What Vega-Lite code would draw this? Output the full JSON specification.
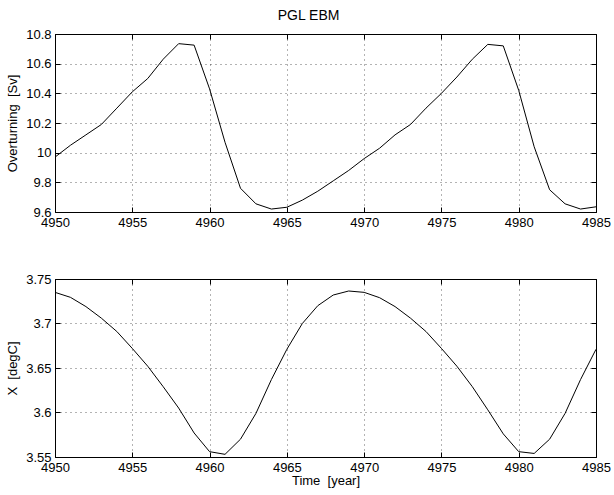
{
  "$schema": "https://vega.github.io/schema/vega-lite/v6.json",
  "autosize": {"type": "pad"},
  "padding": {"left": 6, "top": 8, "right": 5, "bottom": 5},
  "background": "white",
  "title": {"text": "PGL EBM", "anchor": "middle", "fontSize": 14, "fontWeight": "normal", "font": "Liberation Sans", "color": "black", "offset": 5},
  "datasets": {
    "overturning": [
      {"year": 4950, "value": 9.97}, {"year": 4951, "value": 10.05}, {"year": 4952, "value": 10.12},
      {"year": 4953, "value": 10.19}, {"year": 4954, "value": 10.30}, {"year": 4955, "value": 10.41},
      {"year": 4956, "value": 10.50}, {"year": 4957, "value": 10.63}, {"year": 4958, "value": 10.735},
      {"year": 4959, "value": 10.725}, {"year": 4960, "value": 10.43}, {"year": 4961, "value": 10.07},
      {"year": 4962, "value": 9.76}, {"year": 4963, "value": 9.655}, {"year": 4964, "value": 9.62},
      {"year": 4965, "value": 9.632}, {"year": 4966, "value": 9.68}, {"year": 4967, "value": 9.74},
      {"year": 4968, "value": 9.81}, {"year": 4969, "value": 9.88}, {"year": 4970, "value": 9.96},
      {"year": 4971, "value": 10.03}, {"year": 4972, "value": 10.12}, {"year": 4973, "value": 10.19},
      {"year": 4974, "value": 10.30}, {"year": 4975, "value": 10.40}, {"year": 4976, "value": 10.51},
      {"year": 4977, "value": 10.63}, {"year": 4978, "value": 10.73}, {"year": 4979, "value": 10.72},
      {"year": 4980, "value": 10.42}, {"year": 4981, "value": 10.04}, {"year": 4982, "value": 9.75},
      {"year": 4983, "value": 9.655}, {"year": 4984, "value": 9.62}, {"year": 4985, "value": 9.635}
    ],
    "temperature": [
      {"year": 4950, "value": 3.735}, {"year": 4951, "value": 3.7294}, {"year": 4952, "value": 3.719},
      {"year": 4953, "value": 3.706}, {"year": 4954, "value": 3.691}, {"year": 4955, "value": 3.672},
      {"year": 4956, "value": 3.652}, {"year": 4957, "value": 3.629}, {"year": 4958, "value": 3.605},
      {"year": 4959, "value": 3.577}, {"year": 4960, "value": 3.556}, {"year": 4961, "value": 3.553},
      {"year": 4962, "value": 3.570}, {"year": 4963, "value": 3.599}, {"year": 4964, "value": 3.637},
      {"year": 4965, "value": 3.671}, {"year": 4966, "value": 3.700}, {"year": 4967, "value": 3.720},
      {"year": 4968, "value": 3.732}, {"year": 4969, "value": 3.7365}, {"year": 4970, "value": 3.735},
      {"year": 4971, "value": 3.729}, {"year": 4972, "value": 3.719}, {"year": 4973, "value": 3.706},
      {"year": 4974, "value": 3.691}, {"year": 4975, "value": 3.672}, {"year": 4976, "value": 3.652},
      {"year": 4977, "value": 3.629}, {"year": 4978, "value": 3.603}, {"year": 4979, "value": 3.576},
      {"year": 4980, "value": 3.556}, {"year": 4981, "value": 3.554}, {"year": 4982, "value": 3.570},
      {"year": 4983, "value": 3.599}, {"year": 4984, "value": 3.637}, {"year": 4985, "value": 3.671}
    ]
  },
  "bounds": "flush",
  "spacing": 67,
  "vconcat": [
    {
      "width": 541,
      "height": 178,
      "data": {"name": "overturning"},
      "resolve": {"axis": {"x": "independent", "y": "independent"}},
      "layer": [
        {
          "mark": {"type": "line", "color": "black", "strokeWidth": 1},
          "encoding": {
            "x": {"field": "year", "type": "quantitative",
              "scale": {"domain": [4950, 4985], "nice": false, "zero": false},
              "axis": {"values": [4950, 4955, 4960, 4965, 4970, 4975, 4980, 4985], "format": "d", "title": null}},
            "y": {"field": "value", "type": "quantitative",
              "scale": {"domain": [9.6, 10.8], "nice": false, "zero": false},
              "axis": {"values": [9.6, 9.8, 10, 10.2, 10.4, 10.6, 10.8], "format": "~g", "title": "Overturning\u00a0 [Sv]", "titlePadding": 6}}
          }
        },
        {
          "mark": {"type": "line", "color": "black", "strokeWidth": 1, "opacity": 0},
          "encoding": {
            "x": {"field": "year", "type": "quantitative",
              "axis": {"orient": "top", "values": [4950, 4955, 4960, 4965, 4970, 4975, 4980, 4985], "labels": false, "grid": false, "title": null}},
            "y": {"field": "value", "type": "quantitative",
              "axis": {"orient": "right", "values": [9.6, 9.8, 10, 10.2, 10.4, 10.6, 10.8], "labels": false, "grid": false, "title": null}}
          }
        }
      ]
    },
    {
      "width": 541,
      "height": 178,
      "data": {"name": "temperature"},
      "resolve": {"axis": {"x": "independent", "y": "independent"}},
      "layer": [
        {
          "mark": {"type": "line", "color": "black", "strokeWidth": 1},
          "encoding": {
            "x": {"field": "year", "type": "quantitative",
              "scale": {"domain": [4950, 4985], "nice": false, "zero": false},
              "axis": {"values": [4950, 4955, 4960, 4965, 4970, 4975, 4980, 4985], "format": "d", "title": "Time\u00a0 [year]", "titlePadding": 0}},
            "y": {"field": "value", "type": "quantitative",
              "scale": {"domain": [3.55, 3.75], "nice": false, "zero": false},
              "axis": {"values": [3.55, 3.6, 3.65, 3.7, 3.75], "format": "~g", "title": "X\u00a0 [degC]", "titlePadding": 6}}
          }
        },
        {
          "mark": {"type": "line", "color": "black", "strokeWidth": 1, "opacity": 0},
          "encoding": {
            "x": {"field": "year", "type": "quantitative",
              "axis": {"orient": "top", "values": [4950, 4955, 4960, 4965, 4970, 4975, 4980, 4985], "labels": false, "grid": false, "title": null}},
            "y": {"field": "value", "type": "quantitative",
              "axis": {"orient": "right", "values": [3.55, 3.6, 3.65, 3.7, 3.75], "labels": false, "grid": false, "title": null}}
          }
        }
      ]
    }
  ],
  "config": {
    "view": {"stroke": "black", "strokeWidth": 1},
    "axis": {
      "labelFont": "Liberation Sans", "labelFontSize": 13, "labelColor": "black", "labelFlush": false,
      "titleFont": "Liberation Sans", "titleFontSize": 13, "titleFontWeight": "normal", "titleColor": "black",
      "gridColor": "black", "gridDash": [1, 4], "gridOpacity": 0.6, "gridWidth": 1,
      "domain": false, "tickColor": "black", "tickSize": -5, "labelPadding": 9
    }
  }
}
